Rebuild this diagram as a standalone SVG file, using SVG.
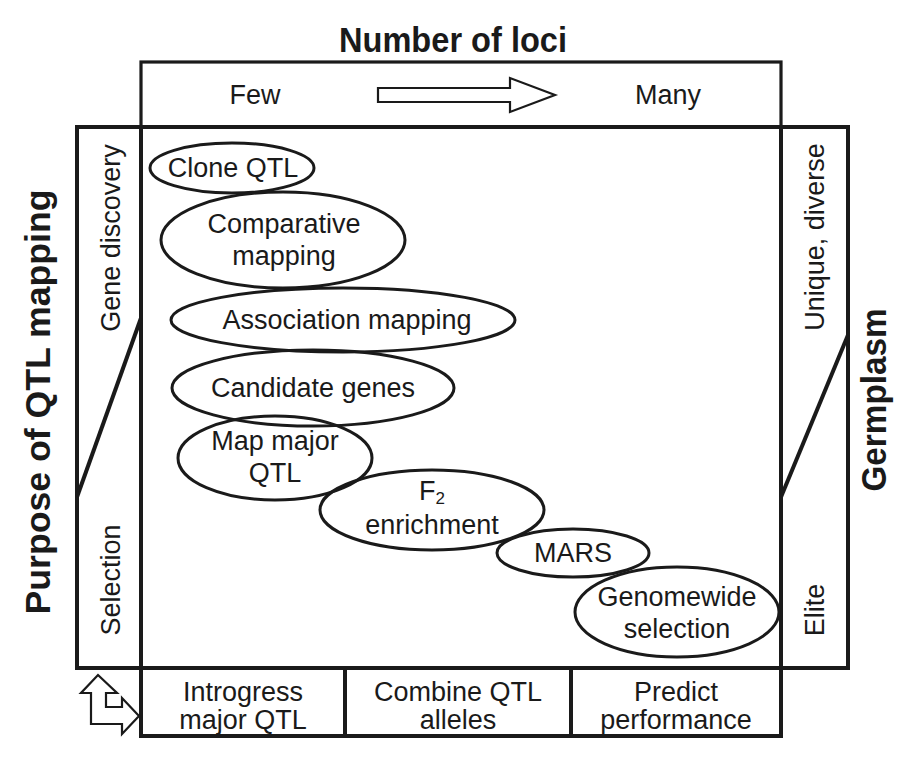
<svg xmlns="http://www.w3.org/2000/svg" width="900" height="770" viewBox="0 0 900 770">
<style>
.t{font-family:"Liberation Sans",Arial,sans-serif;font-size:27px;fill:#1a1a1a;text-anchor:middle}
.b{font-family:"Liberation Sans",Arial,sans-serif;font-size:35px;font-weight:bold;fill:#1a1a1a;text-anchor:middle}
.box{fill:none;stroke:#1a1a1a;stroke-width:4}
.thin{fill:none;stroke:#1a1a1a;stroke-width:3.2}
.ell{fill:none;stroke:#1a1a1a;stroke-width:3}
.arr{fill:#fff;stroke:#1a1a1a;stroke-width:2.2;stroke-linejoin:miter}
</style>
<rect width="900" height="770" fill="#fff"/>
<g id="titles">
<text class="b" x="453" y="52" textLength="228" lengthAdjust="spacingAndGlyphs">Number of loci</text>
<text class="b" transform="translate(50,402) rotate(-90)" textLength="425" lengthAdjust="spacingAndGlyphs">Purpose of QTL mapping</text>
<text class="b" transform="translate(886,400) rotate(-90)" textLength="183" lengthAdjust="spacingAndGlyphs">Germplasm</text>
</g>
<g id="top-axis">
<rect class="thin" x="141" y="62" width="640" height="65"/>
<text class="t" x="255" y="104">Few</text>
<text class="t" x="668" y="104">Many</text>
<polygon class="arr" points="378,88 510,88 510,78 555,95 510,112 510,102 378,102"/>
</g>
<g id="main-box">
<rect class="box" x="141" y="127" width="640" height="541"/>
</g>
<g id="left-panel">
<rect class="box" x="77" y="127" width="64" height="541"/>
<line class="box" x1="141" y1="318" x2="77" y2="497"/>
<text class="t" transform="translate(120,238) rotate(-90)">Gene discovery</text>
<text class="t" transform="translate(120,580) rotate(-90)">Selection</text>
</g>
<g id="right-panel">
<rect class="box" x="781" y="127" width="67" height="541"/>
<line class="box" x1="848" y1="335" x2="781" y2="497"/>
<text class="t" transform="translate(824,237) rotate(-90)">Unique, diverse</text>
<text class="t" transform="translate(824,610) rotate(-90)">Elite</text>
</g>
<g id="bottom-row">
<rect class="box" x="141" y="668" width="640" height="68"/>
<line class="box" x1="345" y1="668" x2="345" y2="736"/>
<line class="box" x1="571" y1="668" x2="571" y2="736"/>
<text class="t" x="243" y="701">Introgress</text>
<text class="t" x="243" y="729">major QTL</text>
<text class="t" x="458" y="701">Combine QTL</text>
<text class="t" x="458" y="729">alleles</text>
<text class="t" x="676" y="701">Predict</text>
<text class="t" x="676" y="729">performance</text>
</g>
<g id="cycle-icon">
<polygon class="arr" points="98,675 117,693 106,693 106,707 122,707 122,698 139,716 122,734 122,724 91,724 91,693 81,693"/>
</g>
<g id="clone-qtl">
<ellipse class="ell" cx="232" cy="168" rx="82" ry="25"/>
<text class="t" x="233" y="177">Clone QTL</text>
</g>
<g id="comparative-mapping">
<ellipse class="ell" cx="283" cy="240" rx="122" ry="48"/>
<text class="t" x="284" y="233">Comparative</text>
<text class="t" x="284" y="265">mapping</text>
</g>
<g id="association-mapping">
<ellipse class="ell" cx="343" cy="320" rx="172" ry="32"/>
<text class="t" x="347" y="329">Association mapping</text>
</g>
<g id="candidate-genes">
<ellipse class="ell" cx="313" cy="388" rx="141" ry="38"/>
<text class="t" x="313" y="397">Candidate genes</text>
</g>
<g id="map-major-qtl">
<ellipse class="ell" cx="275" cy="458" rx="97" ry="42"/>
<text class="t" x="275" y="450">Map major</text>
<text class="t" x="275" y="482">QTL</text>
</g>
<g id="f2-enrichment">
<ellipse class="ell" cx="432" cy="510" rx="112" ry="40"/>
<text class="t" x="432" y="500">F<tspan font-size="17" dy="4">2</tspan></text>
<text class="t" x="432" y="534">enrichment</text>
</g>
<g id="mars">
<ellipse class="ell" cx="573" cy="553" rx="76" ry="24"/>
<text class="t" x="573" y="562">MARS</text>
</g>
<g id="genomewide-selection">
<ellipse class="ell" cx="677" cy="612" rx="102" ry="45"/>
<text class="t" x="677" y="606">Genomewide</text>
<text class="t" x="677" y="638">selection</text>
</g>
</svg>
